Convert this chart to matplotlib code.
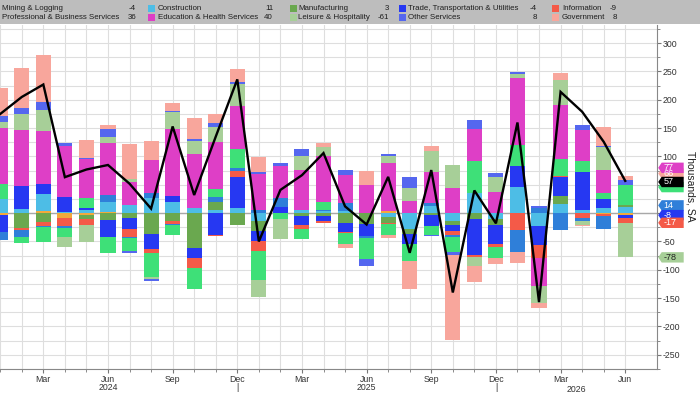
import matplotlib
matplotlib.use("Agg")
import matplotlib.pyplot as plt
import numpy as np
from matplotlib import font_manager
from matplotlib.transforms import blended_transform_factory, ScaledTranslation
from matplotlib.patches import Rectangle, Polygon

names = {f.name for f in font_manager.fontManager.ttflist}
FONT = 'Liberation Sans Narrow' if 'Liberation Sans Narrow' in names else 'Liberation Sans'
plt.rcParams['font.family'] = [FONT, 'DejaVu Sans']

# ---------------- data (thousands, monthly Jan 2024 .. Jun 2026) ----------------
month_names = ['Jan', 'Feb', 'Mar', 'Apr', 'May', 'Jun', 'Jul', 'Aug', 'Sep', 'Oct', 'Nov', 'Dec']
years = [2024, 2025, 2026]
n_months = 30

mining        = [-4, 0, 3, -8, -4, 2, 0, 0, 0, 0, 0, 0, 0, 0, 0, 0, 0, 0, 3, 0, 0, 0, 0, 0, 0, 0, 0, 0, -2, -4]
construction  = [24.6, 7.6, 31, 1.5, 5, 17.7, 13.8, 26.4, 19.4, 8.8, 5.9, 8.8, -14.7, 0, 5.9, 3, 3, 0, -6, -28, 12, -14.7, 35, -10, 47, -22, 16.4, 6.2, 8.8, 11]
manufacturing = [0, -26, -16, 0, -7, -12, -8, -36, -14, -61, 14.6, -20.5, -17.6, 0, -5, -5, -17, -20, -12, -8, -4, -7, -11, -11.7, 0, 0, 14, 0, 0, 3]
trade         = [-30, 41, 17, 27.5, 3.5, -30, -20.5, -28, 11, -19, -38, 55.8, -17.6, 11.7, -16.4, -8.8, -16.4, -20.6, 0, -19.3, -18, -10.6, -63, -32.3, 36.3, -35, 34, 66.3, 16.4, -4]
information   = [0, -3, -6, -15, -10.6, 0, -13, -7, -6, -16.4, -3, 10.5, -17.6, 0, -7, -3, -1.3, 0, -2, 0, 0, -6, -4, -5.9, -29.3, -22, 2, -8.5, -3.9, -9]
other_sector  = [-13, -13, -2, -4, 0, 11.7, -3, 8.8, -1.5, 0, 8.8, 4, 5.9, 14.7, 0, 3, 15, -4, 0, 0, 6, -4, 0, 0, -39.4, 9, -30, -6, -21.7, 0]
prof_business = [26, -10, -27, -15, 17.6, -29, -22, -41, -17.5, -38, 13, 33.5, -51, -11, -17.6, 13.5, -20.5, -37, -19, -29.3, -16, -25.5, 57, -19.3, 37, 0, 29.3, 18.8, 10, 36]
education     = [99, 98, 94.5, 89, 68.7, 92, 40.5, 58.7, 118, 95.7, 84, 76.3, 63.4, 57, 70.4, 82, 50, 49, 86.3, 22.3, 55, 45, 56, 38.1, 119, -49, 95, 55.7, 41, 0]
leisure       = [12, 28, 36.5, -17.6, -30, 11.8, 6.4, -3.5, 30, 22.3, 25.4, 38.7, -30, -35, 24.7, 14.7, 0, 0, 11.7, 21.7, 37, 40, -15, 25.3, 5.9, -31, 44.6, -6, 40, -61]
other_services= [10, 11, 13.5, 5, 3, 13.5, -3, -5, 2.4, 3.5, 7, 4.1, 3, 4.7, 11.7, 0, 8.8, -11, 3.5, 19.4, -3, -6, 15.8, 8.2, 3, 4, 0, 8.8, 2.3, 8]
government    = [50, 71, 83, 0, 31, 7, 61.6, 34, 13, 37, 16.4, 23.5, 26.4, 0, 0, 8.2, -6, 24.6, -4, -48.8, 9, -150.6, -29, -10, -19.3, -8, 11.7, -3, 33, 8]
total_line    = [175, 205, 227, 63.5, 77, 85, 52, 8, 153, 32, 135, 236, -50, 41, 67, 106, 12, -20, 64, -70, 76, -140, 40, -18, 160, -157, 214, 179, 126, 57]

legend_names = ['Mining & Logging', 'Construction', 'Manufacturing', 'Trade, Transportation & Utilities', 'Information',
                'Professional & Business Services', 'Education & Health Services', 'Leisure & Hospitality', 'Other Services', 'Government']
legend_values = ['-4', '11', '3', '-4', '-9', '36', '40', '-61', '8', '8']

tag_texts = ['66', '77', '', '57', '14', '-8', '-17', '-78']
tag_levels = [70, 80, 46, 55, 13.7, -3.5, -17, -78]

# ---------------- styling ----------------
C_MIN = '#f2a93b'
C_CON = '#4dbde6'
C_MFG = '#6aa84f'
C_TRD = '#2638f2'
C_INF = '#f45a48'
C_OTH = '#2f7fd9'
C_PBS = '#3ee078'
C_EDU = '#de3fc6'
C_LEI = '#a7cf98'
C_OSV = '#5567ef'
C_GOV = '#f8a69c'

series = [mining, construction, manufacturing, trade, information, other_sector,
          prof_business, education, leisure, other_services, government]
colors = [C_MIN, C_CON, C_MFG, C_TRD, C_INF, C_OTH, C_PBS, C_EDU, C_LEI, C_OSV, C_GOV]

W, H = 700, 394
fig = plt.figure(figsize=(7.0, 3.94), dpi=100)
ax_left, ax_right, ax_top, ax_bot = 0.0, 656.7, 25, 369
ax = fig.add_axes([ax_left / W, 1 - ax_bot / H, (ax_right - ax_left) / W, (ax_bot - ax_top) / H])

x = np.arange(n_months)
pos_base = np.zeros(n_months)
neg_base = np.zeros(n_months)
for vals, col in zip(series, colors):
    v = np.asarray(vals, dtype=float)
    pos = np.where(v > 0, v, 0.0)
    neg = np.where(v < 0, v, 0.0)
    ax.bar(x, pos, 0.7, bottom=pos_base, color=col, linewidth=0, zorder=2)
    ax.bar(x, neg, 0.7, bottom=neg_base, color=col, linewidth=0, zorder=2)
    pos_base += pos
    neg_base += neg

ax.axhline(0, color='#a8a8a8', lw=1.0, zorder=1.5)
ax.plot(x, total_line, color='black', lw=1.7, zorder=4, solid_joinstyle='miter')

ax.set_xlim(-0.01, 30.46)
ax.set_ylim(-273.6, 332)

# ticks & grid
ax.yaxis.tick_right()
ax.set_yticks(np.arange(-250, 301, 50))
ax.set_yticks(np.arange(-275, 326, 25), minor=True)
ax.set_yticklabels([str(v) for v in range(-250, 301, 50)])
ax.set_xticks(x, minor=True)
q_idx = list(range(2, n_months, 3))
q_labels = []
for i in q_idx:
    m = month_names[i % 12]
    yr = years[i // 12]
    if m == 'Jun' and yr in (2024, 2025):
        q_labels.append(f'{m}\n{yr}')
    elif m == 'Dec':
        q_labels.append(f'{m}\n|')
    else:
        q_labels.append(m)
ax.set_xticks(q_idx)
ax.set_xticklabels(q_labels, linespacing=0.95)
trans_xa = blended_transform_factory(ax.transData, ax.transAxes)
ax.text(26.72, -0.047, '2026', transform=trans_xa, ha='center', va='top', fontsize=6.3, color='#333333')

ax.grid(True, which='both', color='#dedede', lw=0.8, zorder=0)
ax.set_axisbelow(True)
ax.tick_params(axis='both', which='both', direction='out', colors='#777777', labelcolor='#333333', labelsize=6.3)
ax.tick_params(axis='both', which='major', length=3, pad=1.2)
ax.tick_params(axis='both', which='minor', length=2)
for side in ['top', 'left']:
    ax.spines[side].set_visible(False)
ax.spines['right'].set_color('#888888')
ax.spines['bottom'].set_color('#888888')

fig.text(690 / W, 1 - 186 / H, 'Thousands, SA', rotation=270, ha='center', va='center', fontsize=7.5, color='#222222')

# right-side value tags (fixed pixel size, anchored at the right spine)
trans_ya = blended_transform_factory(ax.transAxes, ax.transData)
tag_colors = [C_GOV, C_EDU, C_PBS, 'black', C_OTH, C_TRD, C_INF, C_LEI]
tag_txtcol = ['white', 'white', 'white', 'white', 'white', 'white', 'white', '#222222']
shape = np.array([[0.015, 0.0], [0.05, 0.052], [0.27, 0.052], [0.27, -0.052], [0.05, -0.052]])
for t, lev, c, tc in zip(tag_texts, tag_levels, tag_colors, tag_txtcol):
    tr = fig.dpi_scale_trans + ScaledTranslation(1.0, lev, trans_ya)
    poly = Polygon(shape, closed=True, fc=c, ec='none', transform=tr, clip_on=False, zorder=10)
    ax.add_artist(poly)
    if t:
        ax.text(0.065, 0.0, t, transform=tr, ha='left', va='center', fontsize=6.5, color=tc,
                clip_on=False, zorder=11)

# legend band
fig.patches.append(Rectangle((0, 1 - 24 / H), 1, 24 / H, transform=fig.transFigure, fc='#bdbdbd', ec='none', zorder=0))
sq_x = [None, 148, 290, 399, 552]
tx_x = [2, 158, 298, 408, 562]
val_x = [136, 273, 389, 537, 617]
row_y = [8.3, 17.8]
for k, (name, val, col) in enumerate(zip(legend_names, legend_values, [C_MIN, C_CON, C_MFG, C_TRD, C_INF, C_PBS, C_EDU, C_LEI, C_OSV, C_GOV])):
    r, c = divmod(k, 5)
    yy = 1 - row_y[r] / H
    if sq_x[c] is not None:
        fig.patches.append(Rectangle((sq_x[c] / W, yy - 3.5 / H), 7 / W, 7 / H, transform=fig.transFigure,
                                     fc=col, ec='none', zorder=1))
    fig.text(tx_x[c] / W, yy, name, ha='left', va='center', fontsize=5.7, color='#1e1e1e')
    fig.text(val_x[c] / W, yy, val, ha='right', va='center', fontsize=5.7, color='#1e1e1e')

fig.savefig('out.png', dpi=100)
